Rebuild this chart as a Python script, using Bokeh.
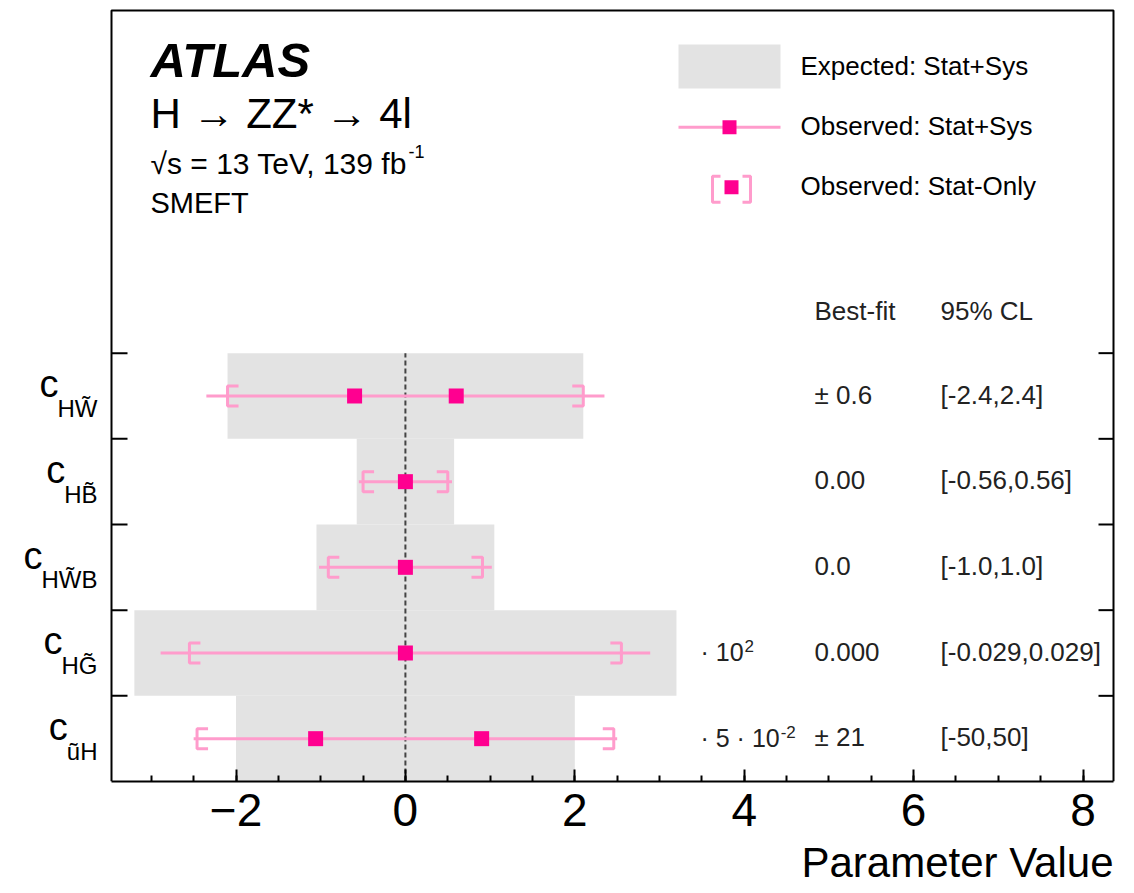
import numpy as np
from bokeh.plotting import figure
from bokeh.models import Range1d, LinearAxis, FixedTicker, Label, Title
from bokeh.embed import file_html
from bokeh.resources import INLINE

# ---- data -------------------------------------------------------------
coef_subscripts = ["HW\u0303", "HB\u0303", "HW\u0303B", "HG\u0303", "u\u0303H"]
row_centers = [4.5, 3.5, 2.5, 1.5, 0.5]
expected_half_width = [2.1, 0.575, 1.05, 3.2, 2.0]       # expected stat+sys interval
observed_total = [2.35, 0.55, 1.02, 2.89, 2.5]            # observed stat+sys interval
observed_stat = [2.1, 0.5, 0.91, 2.55, 2.46]              # observed stat-only interval
best_fit = [[-0.6, 0.6], [0.0], [0.0], [0.0], [-1.06, 0.90]]
best_fit_text = ["\u00b1 0.6", "0.00", "0.0", "0.000", "\u00b1 21"]
cl_text = ["[-2.4,2.4]", "[-0.56,0.56]", "[-1.0,1.0]", "[-0.029,0.029]", "[-50,50]"]
scale_text = [None, None, None, ("\u00b7 10", "2"), ("\u00b7 5 \u00b7 10", "-2")]
x_major = [-2, 0, 2, 4, 6, 8]

# ---- geometry / style ------------------------------------------------
W, H = 1134, 893
BOX_L, BOX_R, BOX_T, BOX_B = 111, 1113, 10, 782     # plot box on the page (px)
X0, X1 = -3.47, 8.36                                 # x values at the box edges
Y0, Y1 = 0.0, 9.0                                    # y values at the box edges
ux = (X1 - X0) / (BOX_R - BOX_L)
uy = (Y1 - Y0) / (BOX_B - BOX_T)

SANS = "'Liberation Sans', Arial, Helvetica, sans-serif"
GREY = "#e3e3e3"
PINK_LINE = "#ff9ccc"
PINK_MARK = "#ff0090"

# Helvetica/Arial advance widths (1/1000 em) for the few glyphs that need measuring
ADV = {"H": 722, "W": 944, "B": 667, "G": 778, "u": 556, "\u0303": 0, " ": 278,
       "\u00b7": 333, "0": 556, "1": 556, "5": 556}


def text_width(s, size):
    return sum(ADV[ch] for ch in s) * size / 1000


def dx(px):
    return X0 + (px - BOX_L) * ux


def dy(py):
    return Y1 - (py - BOX_T) * uy


# the drawing area spans the full page width so the row names fit inside it
p = figure(width=W, height=H,
           x_range=Range1d(dx(0), dx(W)), y_range=Range1d(Y0, dy(0)),
           output_backend="svg", toolbar_location=None,
           x_axis_location=None, y_axis_location=None,
           min_border_left=0, min_border_right=0, min_border_top=0,
           min_border_bottom=H - BOX_B)
p.grid.visible = False
p.outline_line_color = None
p.background_fill_color = "white"
p.border_fill_color = "white"

# bottom axis limited to the plot box
xa = LinearAxis(bounds=(X0, X1),
                ticker=FixedTicker(ticks=x_major, minor_ticks=list(np.arange(-3, 8.01, 0.5))))
xa.major_label_overrides = {-2: "\u22122"}
xa.major_tick_in, xa.major_tick_out = 12, 0
xa.minor_tick_in, xa.minor_tick_out = 6, 0
xa.axis_line_width = 2
xa.major_tick_line_width = 2
xa.minor_tick_line_width = 2
xa.major_label_text_font = SANS
xa.major_label_text_font_size = "46px"
xa.major_label_standoff = 12
xa.major_label_text_color = "black"
p.add_layout(xa, "below")

p.add_layout(Title(text="Parameter Value", align="right", offset=W - BOX_R, standoff=16,
                   text_font=SANS, text_font_size="42px", text_font_style="normal",
                   text_color="black"), "below")

# plot box and the row-boundary ticks on both sides
p.multi_line(xs=[[X0, X0, X1, X1]], ys=[[Y0, Y1, Y1, Y0]], line_color="black", line_width=2)
row_edges = [c + 0.5 for c in row_centers]
p.segment(x0=[X0] * len(row_edges), y0=row_edges, x1=[X0 + 16 * ux] * len(row_edges),
          y1=row_edges, line_color="black", line_width=2)
p.segment(x0=[X1 - 15 * ux] * len(row_edges), y0=row_edges, x1=[X1] * len(row_edges),
          y1=row_edges, line_color="black", line_width=2)

# expected band
p.quad(left=[-e for e in expected_half_width], right=expected_half_width,
       bottom=[c - 0.5 for c in row_centers], top=[c + 0.5 for c in row_centers],
       fill_color=GREY, line_color=None)

# zero line
p.segment(x0=[0], y0=[Y0], x1=[0], y1=[max(row_edges)],
          line_color="#444444", line_width=2, line_dash="5 3")

# observed stat+sys lines
p.segment(x0=[-t for t in observed_total], y0=row_centers, x1=observed_total, y1=row_centers,
          line_color=PINK_LINE, line_width=3)

# observed stat-only brackets
bh, ba = 10 * uy, 11 * ux
bx, by = [], []
for s, c in zip(observed_stat, row_centers):
    bx.append([-s + ba, -s, -s, -s + ba]); by.append([c + bh, c + bh, c - bh, c - bh])
    bx.append([s - ba, s, s, s - ba]); by.append([c + bh, c + bh, c - bh, c - bh])
p.multi_line(xs=bx, ys=by, line_color=PINK_LINE, line_width=3)

# best-fit markers
mx, my = [], []
for vals, c in zip(best_fit, row_centers):
    for v in vals:
        mx.append(v); my.append(c)
p.scatter(mx, my, marker="square", size=15, fill_color=PINK_MARK, line_color=None)


def label(xpx, base_px, text, size, style="normal", align="left", color="black"):
    """Place a text with its baseline at base_px (page pixels)."""
    p.add_layout(Label(x=dx(xpx), y=dy(base_px - 0.36 * size), text=text,
                       text_font=SANS, text_font_size=f"{size}px",
                       text_font_style=style, text_align=align, text_baseline="middle",
                       text_color=color))


def row_px(c):
    return BOX_T + (Y1 - c) / uy


# coefficient names: c with subscript, right aligned
SUB_FS, C_FS = 24, 38
for sub, c in zip(coef_subscripts, row_centers):
    ypx = row_px(c)
    label(97, ypx + 21, sub, SUB_FS, align="right")
    label(97 - text_width(sub, SUB_FS) + 1, ypx + 2, "c", C_FS, align="right")

# right-hand table
TXT = "#222222"
label(814, 320, "Best-fit", 26, color=TXT)
label(940, 320, "95% CL", 26, color=TXT)
for bf, cl, sc, c in zip(best_fit_text, cl_text, scale_text, row_centers):
    ypx = row_px(c)
    label(814, ypx + 8, bf, 26, color=TXT)
    label(940, ypx + 8, cl, 26, color=TXT)
    if sc is not None:
        base, sup = sc
        label(700, ypx + 8, base, 25, color=TXT)
        label(700 + text_width(base, 25) + 1, ypx - 1, sup, 17, color=TXT)

# experiment labels
label(150, 77, "ATLAS", 49, style="bold italic")
label(150, 128, "H \u2192 ZZ* \u2192 4l", 42)
label(150, 174, "\u221as = 13 TeV, 139 fb", 30)
label(408, 158, "-1", 18)
label(150, 213, "SMEFT", 29)

# legend
p.quad(left=[dx(678)], right=[dx(780)], bottom=[dy(88)], top=[dy(44)],
       fill_color=GREY, line_color=None)
p.segment(x0=[dx(678)], y0=[dy(127)], x1=[dx(780)], y1=[dy(127)],
          line_color=PINK_LINE, line_width=3)
p.scatter([dx(729)], [dy(127)], marker="square", size=14, fill_color=PINK_MARK, line_color=None)
lb_h, lb_a = 13 * uy, 8 * ux
lx0, lx1, lyc = dx(712), dx(750), dy(189)
p.multi_line(xs=[[lx0 + lb_a, lx0, lx0, lx0 + lb_a], [lx1 - lb_a, lx1, lx1, lx1 - lb_a]],
             ys=[[lyc + lb_h, lyc + lb_h, lyc - lb_h, lyc - lb_h]] * 2,
             line_color=PINK_LINE, line_width=3)
p.scatter([dx(731)], [dy(187)], marker="square", size=14, fill_color=PINK_MARK, line_color=None)
label(800, 75, "Expected: Stat+Sys", 26)
label(800, 135, "Observed: Stat+Sys", 26)
label(800, 195, "Observed: Stat-Only", 26)

open("out.html", "w").write(file_html(p, INLINE))
